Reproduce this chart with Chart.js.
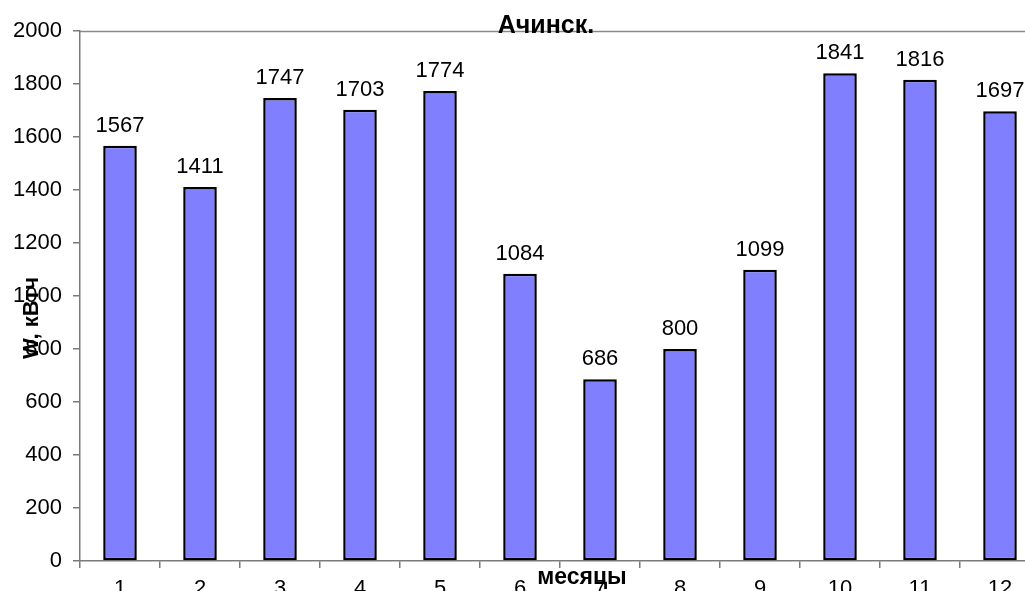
<!DOCTYPE html>
<html>
<head>
<meta charset="utf-8">
<script src="https://cdn.jsdelivr.net/npm/chart.js@4"></script>
<style>
  html, body { margin: 0; padding: 0; background: #fff; overflow: hidden; }
  #wrap { width: 1025px; height: 591px; overflow: hidden; }
</style>
</head>
<body>
<div id="wrap"><canvas id="c" width="1040" height="591"></canvas></div>
<script>
const months = ['1', '2', '3', '4', '5', '6', '7', '8', '9', '10', '11', '12'];
const energy = [1567, 1411, 1747, 1703, 1774, 1084, 686, 800, 1099, 1841, 1816, 1697];
const yTicks = [0, 200, 400, 600, 800, 1000, 1200, 1400, 1600, 1800, 2000];

const chartTitle = 'Ачинск.';
const yTitle = 'W, кВтч';
const xTitle = 'месяцы';

const FONT = 'Arial, "Liberation Sans", sans-serif';

// Value labels, title and axis captions drawn over the plot
const overlay = {
  id: 'overlay',
  afterDatasetsDraw(chart) {
    const ctx = chart.ctx;
    const y = chart.scales.y;
    const area = chart.chartArea;
    ctx.save();
    // top frame line at the axis maximum
    ctx.strokeStyle = '#8a8a8a';
    ctx.lineWidth = 1.5;
    const top = Math.round(y.getPixelForValue(2000)) + 0.5;
    ctx.beginPath();
    ctx.moveTo(area.left, top);
    ctx.lineTo(area.right, top);
    ctx.stroke();

    // bar values
    ctx.fillStyle = '#000';
    ctx.font = '22px ' + FONT;
    ctx.textAlign = 'center';
    ctx.textBaseline = 'alphabetic';
    chart.getDatasetMeta(0).data.forEach((bar, i) => {
      ctx.fillText(String(energy[i]), bar.x, bar.y - 14);
    });

    // chart title
    ctx.font = 'bold 25px ' + FONT;
    ctx.textBaseline = 'middle';
    ctx.fillText(chartTitle, 546, 26);

    // x axis caption
    ctx.font = 'bold 23px ' + FONT;
    ctx.fillText(xTitle, 582, 578);

    // y axis caption
    ctx.translate(32, 318);
    ctx.rotate(-Math.PI / 2);
    ctx.font = 'bold 22px ' + FONT;
    ctx.fillText(yTitle, 0, 0);
    ctx.restore();
  }
};

new Chart(document.getElementById('c'), {
  type: 'bar',
  data: {
    labels: months,
    datasets: [{
      data: energy,
      backgroundColor: '#8080ff',
      borderColor: '#000',
      borderWidth: 2.5,
      borderSkipped: false,
      barPercentage: 0.42,
      categoryPercentage: 1
    }]
  },
  options: {
    responsive: false,
    animation: false,
    devicePixelRatio: 1,
    layout: { padding: { top: 31, right: 0, left: 0, bottom: 0 } },
    plugins: {
      legend: { display: false },
      tooltip: { enabled: false },
      title: { display: false }
    },
    scales: {
      x: {
        offset: true,
        grid: {
          offset: true,
          drawOnChartArea: false,
          drawTicks: true,
          tickLength: 7,
          color: '#7a7a7a',
          lineWidth: 1.5
        },
        border: { color: '#7a7a7a', width: 1.5 },
        ticks: {
          color: '#000',
          font: { family: FONT, size: 22 },
          padding: 8,
          maxRotation: 0,
          autoSkip: false
        },
        afterFit(scale) { scale.height = 30; }
      },
      y: {
        min: 0,
        max: 2000,
        afterBuildTicks(scale) { scale.ticks = yTicks.map(v => ({ value: v })); },
        grid: {
          drawOnChartArea: false,
          drawTicks: true,
          tickLength: 7,
          color: '#7a7a7a',
          lineWidth: 1.5
        },
        border: { color: '#7a7a7a', width: 1.5 },
        ticks: {
          color: '#000',
          font: { family: FONT, size: 22 },
          padding: 11,
          callback: v => String(v)
        },
        afterFit(scale) { scale.width = 80; }
      }
    }
  },
  plugins: [overlay]
});
</script>
</body>
</html>
